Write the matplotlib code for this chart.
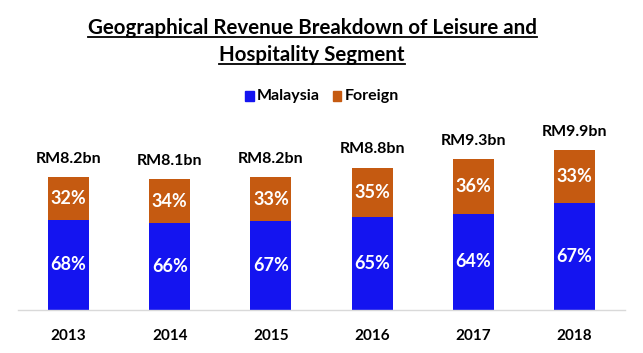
import matplotlib.pyplot as plt
import numpy as np
from matplotlib.lines import Line2D
from matplotlib.patches import Rectangle

# data
years = ["2013", "2014", "2015", "2016", "2017", "2018"]
total_bn = [8.2, 8.1, 8.2, 8.8, 9.3, 9.9]
malaysia_pct = [68, 66, 67, 65, 64, 67]
foreign_pct = [32, 34, 33, 35, 36, 33]

BLUE = "#1414f0"
ORANGE = "#c55a11"
FONT = "Lato"

plt.rcParams["font.family"] = FONT

W, H = 643, 353
fig = plt.figure(figsize=(W / 100, H / 100), dpi=100)
ax = fig.add_axes([18 / W, 43 / H, 607 / W, 170 / H])

x = np.arange(len(years))
total = np.array(total_bn)
mal = total * np.array(malaysia_pct) / 100
frn = total * np.array(foreign_pct) / 100

bw = 0.405
ax.bar(x, mal, bw, color=BLUE, label="Malaysia")
ax.bar(x, frn, bw, bottom=mal, color=ORANGE, label="Foreign")

for i in range(len(years)):
    ax.text(x[i], mal[i] / 2, f"{malaysia_pct[i]}%", ha="center", va="center",
            color="white", fontsize=13, fontweight="bold")
    ax.text(x[i], mal[i] + frn[i] / 2, f"{foreign_pct[i]}%", ha="center", va="center",
            color="white", fontsize=13, fontweight="bold")
    ax.annotate(f"RM{total_bn[i]}bn", (x[i], total[i]), xytext=(0, 13),
                textcoords="offset points", ha="center", va="center",
                fontsize=11.5, fontweight="bold", color="black")

ax.set_xlim(-0.5, len(years) - 0.5)
ax.set_ylim(0, 10.5)
ax.set_xticks(x)
ax.set_xticklabels(years, fontsize=11, fontweight="bold")
ax.tick_params(axis="x", length=0, pad=14)
ax.set_yticks([])
for side in ["top", "right", "left"]:
    ax.spines[side].set_visible(False)
ax.spines["bottom"].set_color("#d9d9d9")
ax.spines["bottom"].set_linewidth(1)

# legend drawn by hand to match placement
leg_y = 1 - 96 / H
items = [(249 / W, BLUE, "Malaysia"), (337 / W, ORANGE, "Foreign")]
for lx, col, name in items:
    fig.patches.append(Rectangle((lx - 4.5 / W, leg_y - 5 / H), 9 / W, 10 / H,
                                 transform=fig.transFigure, color=col))
    fig.text(lx + 8 / W, leg_y, name, ha="left", va="center",
             fontsize=11.5, fontweight="bold")

# title with underline
title_lines = ["Geographical Revenue Breakdown of Leisure and", "Hospitality Segment"]
title_y = [1 - 28 / H, 1 - 55 / H]
texts = []
for line, ty in zip(title_lines, title_y):
    texts.append(fig.text(312 / W, ty, line, ha="center", va="center",
                          fontsize=14.8, fontweight="bold"))

fig.canvas.draw()
r = fig.canvas.get_renderer()
for t in texts:
    bb = t.get_window_extent(renderer=r)
    uy = (bb.y0 + 1) / H
    fig.lines.append(Line2D([bb.x0 / W, bb.x1 / W], [uy, uy],
                            transform=fig.transFigure, color="black", lw=1.3))

fig.savefig("out.png", dpi=100)
